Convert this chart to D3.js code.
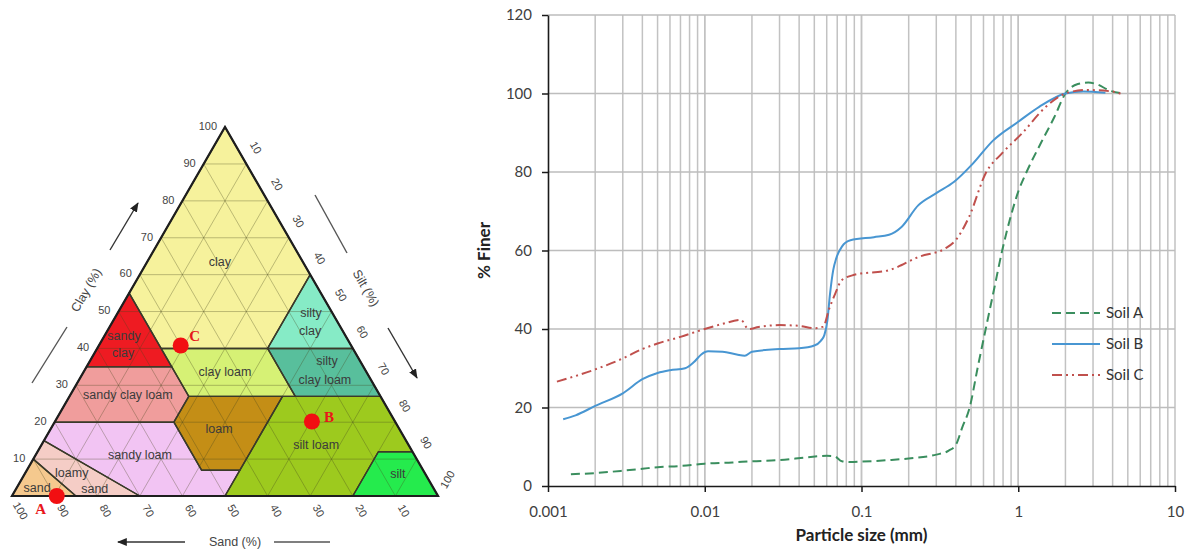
<!DOCTYPE html>
<html>
<head>
<meta charset="utf-8">
<script src="https://cdn.jsdelivr.net/npm/d3@7"></script>
<style>
  html, body { margin: 0; padding: 0; background: #fff; }
  svg { display: block; }
</style>
</head>
<body>
<svg id="fig" width="1196" height="552"></svg>
<script>
// ---------- Soil texture triangle data (USDA classes, [sand, silt, clay] %) ----------
const classNames = ["clay", "sandy clay", "silty clay", "clay loam", "silty clay loam",
  "sandy clay loam", "loam", "silt loam", "silt", "sandy loam", "loamy sand", "sand"];
const classPolygons = [
  [[45,15,40],[20,40,40],[0,40,60],[0,0,100],[45,0,55]],
  [[65,0,35],[45,20,35],[45,0,55]],
  [[20,40,40],[0,60,40],[0,40,60]],
  [[45,28,27],[20,53,27],[20,40,40],[45,15,40]],
  [[20,53,27],[0,73,27],[0,60,40],[20,40,40]],
  [[80,0,20],[52,28,20],[45,28,27],[45,20,35],[65,0,35]],
  [[43,50,7],[52,41,7],[52,28,20],[45,28,27],[23,50,27]],
  [[50,50,0],[20,80,0],[8,80,12],[0,88,12],[0,73,27],[23,50,27],[43,50,7]],
  [[20,80,0],[0,100,0],[0,88,12],[8,80,12]],
  [[85,0,15],[70,30,0],[50,50,0],[43,50,7],[52,41,7],[52,28,20],[80,0,20]],
  [[90,0,10],[85,15,0],[70,30,0],[85,0,15]],
  [[100,0,0],[85,15,0],[90,0,10]]
];
const classColors = ["#f6f29c", "#ee1b22", "#86ebc6", "#d6f175", "#58bf9c",
  "#f09d9c", "#c48e16", "#9dca1e", "#25eb4d", "#f2c4f3", "#f5cdc6", "#f5c98e"];
// label anchor of each class as [clay, silt]
const classLabelAt = [[63.4,17.1],[41.2,5.7],[47.4,46.5],[33.6,33.2],[33.9,56.5],
  [27.4,13.5],[18.2,39.5],[13.8,64.5],[6,87.6],[11.1,24.5],[4.3,14.7],[2.4,4.7]];

const axisPercent = [10,20,30,40,50,60,70,80,90,100];

const soilNames = ["A", "B", "C"];
const soilSand = [89.5, 19.5, 40];
const soilSilt = [10.5, 60.3, 19.2];
const soilClay = [0, 20.2, 40.8];

// ---------- Grain size distribution data ----------
const sizeA  = [0.0014,0.002,0.003,0.004,0.005,0.007,0.01,0.015,0.02,0.03,0.045,0.06,0.067,0.075,0.085,0.1,0.15,0.2,0.3,0.36,0.4,0.44,0.49,0.55,0.62,0.7,0.79,0.9,1.0,1.13,1.4,1.7,2.0,2.4,2.8,3.2,3.8,4.7];
const finerA = [3.0,3.3,3.9,4.4,4.8,5.1,5.7,6.0,6.3,6.6,7.3,7.7,7.6,6.3,6.1,6.2,6.6,7.0,8.0,9.0,10.5,15,20,30,40,50,60,69,75,80,87.5,94,100,102.4,102.8,102.3,100.8,100];

const sizeB  = [0.00125,0.0015,0.002,0.003,0.004,0.005,0.006,0.0075,0.0085,0.0095,0.0105,0.013,0.016,0.018,0.02,0.03,0.04,0.05,0.055,0.058,0.0605,0.063,0.066,0.069,0.075,0.085,0.12,0.15,0.18,0.23,0.3,0.39,0.51,0.69,1.0,1.36,2.0,2.6,3.6];
const finerB = [17,18,20.4,23.6,27.2,28.8,29.5,30,31.5,33.5,34.3,34.2,33.5,33.2,34.2,34.9,35.1,35.8,37,38.5,42,49,55,58,61,62.6,63.4,64,66,71.5,74.6,77.5,82,88,92.8,96.6,100,100.5,100.2];

const sizeC  = [0.00114,0.002,0.003,0.004,0.005,0.007,0.01,0.013,0.017,0.019,0.022,0.03,0.04,0.05,0.057,0.062,0.068,0.075,0.09,0.15,0.233,0.345,0.4,0.486,0.62,0.79,1.06,1.5,2.0,2.7,4.0,4.7];
const finerC = [26.6,29.7,32.5,34.9,36.3,38,40,41.3,42.3,40.0,40.5,41,40.8,40.2,40.6,45,49,52.5,53.8,55,58.4,60.6,62.7,68.6,79.7,84.8,89.9,96.6,100,100.9,100.5,99.6];

const seriesNames = ["Soil A", "Soil B", "Soil C"];
const yTicks = [0,20,40,60,80,100,120];
const xTicks = [0.001,0.01,0.1,1,10];
const xTickLabels = ["0.001","0.01","0.1","1","10"];

const svg = d3.select("#fig");

// ================= Ternary texture diagram =================
const tx = d3.scaleLinear().domain([0,100]).range([12,438]);
const ty = d3.scaleLinear().domain([0,100]).range([496, 496 - 426*Math.sqrt(3)/2]);
const proj = (clay, silt) => [tx(silt + clay/2), ty(clay)];
const projSSC = p => proj(p[2], p[1]);

const tern = svg.append("g");

// class areas
tern.selectAll("path.cls").data(classPolygons).join("path")
  .attr("class","cls")
  .attr("d", p => "M" + p.map(projSSC).join("L") + "Z")
  .attr("fill", (p,i) => classColors[i])
  .attr("stroke","none");

// 10 % grid in three directions
const gridG = tern.append("g").attr("stroke","rgba(70,70,30,0.33)").attr("stroke-width",1);
for (const k of axisPercent.slice(0,9)) {
  // constant clay
  gridG.append("line").datum([proj(k,0), proj(k,100-k)])
    .attr("x1",d=>d[0][0]).attr("y1",d=>d[0][1]).attr("x2",d=>d[1][0]).attr("y2",d=>d[1][1]);
  // constant silt
  gridG.append("line").datum([proj(0,k), proj(100-k,k)])
    .attr("x1",d=>d[0][0]).attr("y1",d=>d[0][1]).attr("x2",d=>d[1][0]).attr("y2",d=>d[1][1]);
  // constant sand
  gridG.append("line").datum([proj(0,100-k), proj(100-k,0)])
    .attr("x1",d=>d[0][0]).attr("y1",d=>d[0][1]).attr("x2",d=>d[1][0]).attr("y2",d=>d[1][1]);
}

// class boundaries
tern.selectAll("path.bnd").data(classPolygons).join("path")
  .attr("class","bnd")
  .attr("d", p => "M" + p.map(projSSC).join("L") + "Z")
  .attr("fill","none").attr("stroke","#3a3a2a").attr("stroke-width",1.4)
  .attr("stroke-linejoin","round");

// outer triangle
tern.append("path")
  .attr("d","M" + [proj(0,0), proj(0,100), proj(100,0)].join("L") + "Z")
  .attr("fill","none").attr("stroke","#1e1e1e").attr("stroke-width",2.2)
  .attr("stroke-linejoin","miter");

// class labels
const lblG = tern.append("g")
  .attr("font-family","Liberation Sans, Arial, sans-serif")
  .attr("font-size",12.5).attr("fill","#3b3b3b").attr("text-anchor","middle");
const labelLines = {
  "sandy clay": [["sandy",0,-8],["clay",-1,9]],
  "silty clay": [["silty",0,-9],["clay",-1,9]],
  "silty clay loam": [["silty",2,-10],["clay loam",0,9]],
  "loamy sand": [["loamy",-12,-8],["sand",11,8]]
};
classNames.forEach((name,i) => {
  const [cx, cy] = proj(classLabelAt[i][0], classLabelAt[i][1]);
  const lines = labelLines[name] || [[name,0,0]];
  lines.forEach(([t,dx,dy]) => {
    lblG.append("text").attr("x",cx+dx).attr("y",cy+dy).attr("dy","0.35em").text(t);
  });
});

// axis numbers
const numG = tern.append("g")
  .attr("font-family","Liberation Sans, Arial, sans-serif")
  .attr("font-size",11).attr("fill","#444");
// clay (left edge)
axisPercent.forEach(k => {
  const [px,py] = proj(k,0);
  numG.append("text").attr("x",px-8).attr("y",py-1).attr("dy","0.35em")
    .attr("text-anchor","end").text(k);
});
// silt (right edge)
axisPercent.forEach(k => {
  const [px,py] = proj(100-k,k);
  const lx = px + 0.5*19, ly = py - 0.866*19;
  const rot = k === 100 ? -60 : 60;
  numG.append("text").attr("transform",`translate(${lx},${ly}) rotate(${rot})`)
    .attr("dy","0.35em").attr("text-anchor","middle").text(k);
});
// sand (base)
axisPercent.forEach(k => {
  const [px,py] = proj(0,100-k);
  const lx = px + 0.5*17, ly = py + 0.866*17;
  numG.append("text").attr("transform",`translate(${lx},${ly}) rotate(60)`)
    .attr("dy","0.35em").attr("text-anchor","middle").text(k);
});

// axis titles with guide arrows
const defs = svg.append("defs");
defs.append("marker").attr("id","ah").attr("viewBox","0 0 10 10")
  .attr("refX",9).attr("refY",5).attr("markerWidth",7).attr("markerHeight",7)
  .attr("orient","auto-start-reverse")
  .append("path").attr("d","M0,1L10,5L0,9Z").attr("fill","#222");

const titleG = tern.append("g")
  .attr("font-family","Liberation Sans, Arial, sans-serif")
  .attr("font-size",12.5).attr("fill","#444").attr("text-anchor","middle");
const guide = (x1,y1,x2,y2,arrow) => {
  const l = tern.append("line").attr("x1",x1).attr("y1",y1).attr("x2",x2).attr("y2",y2)
    .attr("stroke","#555").attr("stroke-width",1.4);
  if (arrow) l.attr("marker-end","url(#ah)").attr("stroke","#333");
};
titleG.append("text").attr("transform","translate(86,290) rotate(-60)").attr("dy","0.35em").text("Clay (%)");
guide(32,383,67,327,false);
guide(110,250,138,203,true);
titleG.append("text").attr("transform","translate(366,288) rotate(60)").attr("dy","0.35em").text("Silt (%)");
guide(315,195,347,253,false);
guide(388,328,417,378,true);
titleG.append("text").attr("x",235).attr("y",542).attr("dy","0.35em").text("Sand (%)");
guide(274,542,330,542,false);
guide(185,542,118,542,true);

// soil samples
const ptG = tern.append("g");
soilNames.forEach((n,i) => {
  const [px,py] = proj(soilClay[i], soilSilt[i]);
  ptG.append("circle").attr("cx",px).attr("cy",py).attr("r",8).attr("fill","#f20f12");
});
const ptLabelOffset = {A:[-16,13], B:[17,-5], C:[14,-10]};
soilNames.forEach((n,i) => {
  const [px,py] = proj(soilClay[i], soilSilt[i]);
  ptG.append("text").attr("x",px+ptLabelOffset[n][0]).attr("y",py+ptLabelOffset[n][1])
    .attr("dy","0.35em").attr("text-anchor","middle")
    .attr("font-family","Liberation Serif, DejaVu Serif, serif").attr("font-weight","bold")
    .attr("font-size",15).attr("fill","#e8161b").text(n);
});

// ================= Particle size distribution =================
const x = d3.scaleLog().domain([0.001,10]).range([548,1175]);
const y = d3.scaleLinear().domain([0,120]).range([486,15]);

const plot = svg.append("g");
// vertical gridlines at every log minor step
const vGrid = [];
[0.001,0.01,0.1,1].forEach(d => { for (let m=1;m<=10;m++) if (!(d===0.001&&m===1)) vGrid.push(d*m); });
plot.append("g").selectAll("line").data(vGrid).join("line")
  .attr("x1",d=>x(d)).attr("x2",d=>x(d)).attr("y1",y(120)).attr("y2",y(0))
  .attr("stroke","#c2c2c2").attr("stroke-width",1.5);
plot.append("g").selectAll("line").data(yTicks.slice(1)).join("line")
  .attr("x1",x(0.001)).attr("x2",x(10)).attr("y1",d=>y(d)).attr("y2",d=>y(d))
  .attr("stroke","#bdbdbd").attr("stroke-width",1.6);

// axes
const yAxis = plot.append("g").attr("transform",`translate(${x(0.001)},0)`)
  .call(d3.axisLeft(y).tickValues(yTicks).tickSize(6).tickSizeOuter(0).tickPadding(10));
const xAxis = plot.append("g").attr("transform",`translate(0,${y(0)})`)
  .call(d3.axisBottom(x).tickValues(xTicks).tickFormat((d,i)=>xTickLabels[i]).tickSize(6).tickSizeOuter(0));
[yAxis, xAxis].forEach(a => {
  a.select(".domain").attr("stroke","#1a1a1a").attr("stroke-width",1.6);
  a.selectAll(".tick line").attr("stroke","#1a1a1a").attr("stroke-width",1.5);
  a.selectAll("text").attr("font-family","Lato, 'Open Sans', sans-serif")
    .attr("font-size",15).attr("fill","#404040");
});
xAxis.selectAll("text").attr("y",26).attr("dy","0.35em");

// axis titles
plot.append("text").attr("transform",`translate(484,${(y(0)+y(120))/2}) rotate(-90)`)
  .attr("text-anchor","middle").attr("dy","0.35em")
  .attr("font-family","Lato, 'Open Sans', sans-serif").attr("font-weight","bold")
  .attr("font-size",17).attr("fill","#222").text("% Finer");
plot.append("text").attr("x",(x(0.001)+x(10))/2).attr("y",535).attr("dy","0.35em")
  .attr("text-anchor","middle")
  .attr("font-family","Lato, 'Open Sans', sans-serif").attr("font-weight","bold")
  .attr("font-size",17).attr("fill","#222").text("Particle size (mm)");

// curves
const seriesSizes = [sizeA, sizeB, sizeC];
const seriesFiner = [finerA, finerB, finerC];
const seriesColor = ["#3a8e5e", "#4896d2", "#c0504d"];
const seriesDash = ["9,5", null, "10,4,2,4,2,4"];
const line = d3.line().x(d=>x(d[0])).y(d=>y(d[1])).curve(d3.curveMonotoneX);
seriesNames.forEach((n,i) => {
  const pts = seriesSizes[i].map((s,j)=>[s, seriesFiner[i][j]]);
  plot.append("path").attr("d", line(pts)).attr("fill","none")
    .attr("stroke",seriesColor[i]).attr("stroke-width",2)
    .attr("stroke-dasharray",seriesDash[i]);
});

// legend
const leg = plot.append("g");
seriesNames.forEach((n,i) => {
  const ly = 313 + i*31;
  leg.append("line").attr("x1",1052).attr("x2",1100).attr("y1",ly).attr("y2",ly)
    .attr("stroke",seriesColor[i]).attr("stroke-width",2).attr("stroke-dasharray",seriesDash[i]);
  leg.append("text").attr("x",1106).attr("y",ly).attr("dy","0.35em")
    .attr("font-family","Lato, 'Open Sans', sans-serif").attr("font-size",15)
    .attr("fill","#333").text(n);
});
</script>
</body>
</html>
